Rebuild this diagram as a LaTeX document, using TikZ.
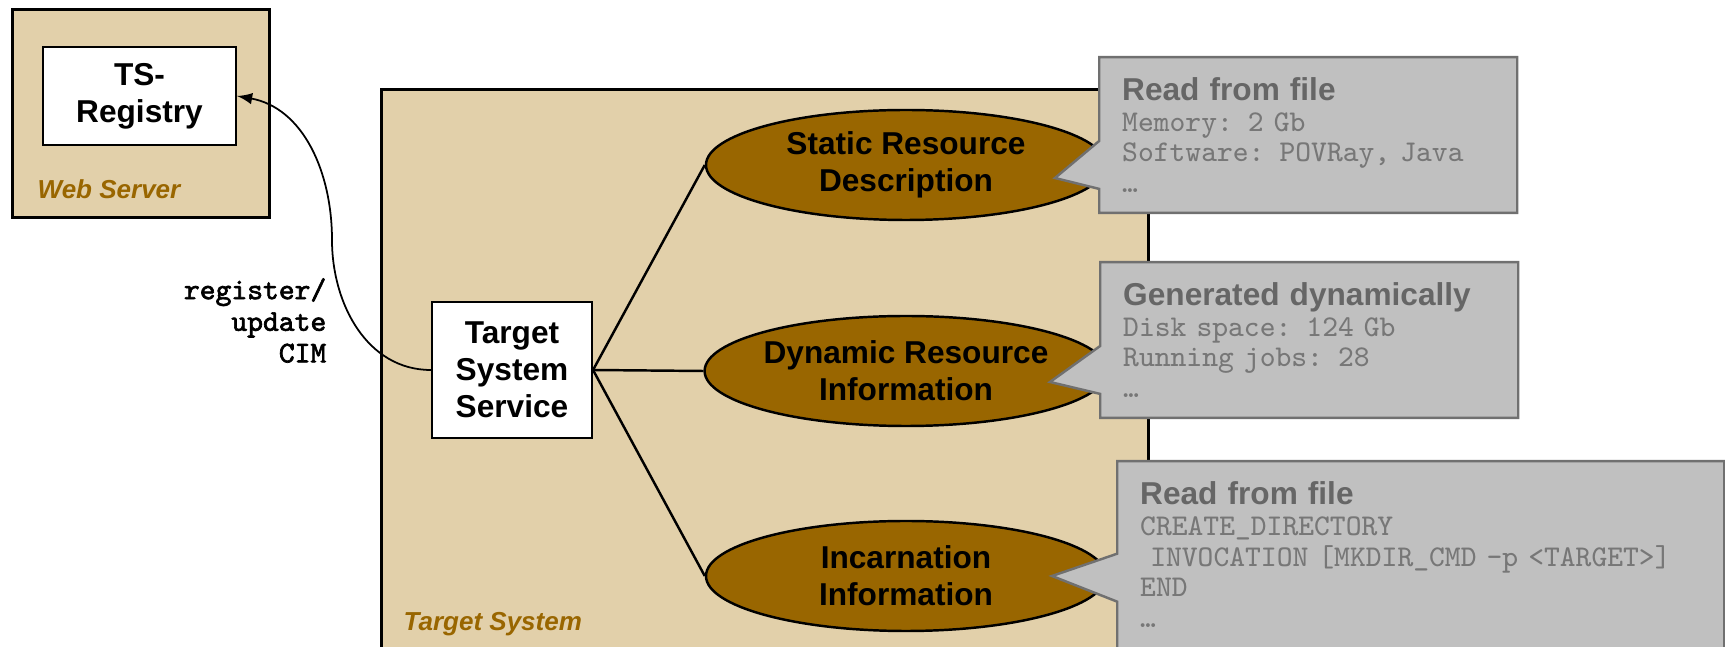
\documentclass[tikz,border=0pt]{standalone}
\usepackage{fontspec}
\setmainfont{Liberation Sans}
\newfontfamily\cimfont{lmmono10-regular}[Extension=.otf, FakeBold=2.2]
\usepackage{xcolor}
\usepackage{tikz}
\usetikzlibrary{shapes.geometric,shapes.callouts}

\definecolor{areafill}{RGB}{226,208,170}
\definecolor{resbrown}{RGB}{153,102,0}
\definecolor{notefill}{RGB}{192,192,192}
\definecolor{noteline}{RGB}{112,112,112}
\definecolor{notetitle}{RGB}{102,102,102}
\definecolor{notetext}{RGB}{119,119,119}

\newcommand{\notehead}[1]{{\fontsize{9}{8.8}\selectfont\rmfamily\bfseries\color{notetitle}#1}}

\begin{document}
\begin{tikzpicture}[
    hostbox/.style={draw=black, line width=0.8pt, fill=areafill, anchor=north west, inner sep=0pt},
    whitebox/.style={draw=black, line width=0.6pt, fill=white, align=center, inner sep=0pt, font=\fontsize{9}{10.6}\selectfont\bfseries},
    hostlabel/.style={anchor=base west, inner sep=0pt, text=resbrown, font=\fontsize{7.4}{8.8}\selectfont\bfseries\itshape},
    resell/.style={ellipse, draw=black, line width=0.7pt, fill=resbrown, minimum width=4cm, minimum height=1.1cm, inner sep=0pt, align=center, font=\fontsize{9}{10.6}\selectfont\bfseries},
    infonote/.style={rectangle callout, draw=noteline, line width=0.7pt, fill=notefill, anchor=north west, align=left, inner xsep=0.23cm, inner ysep=0.2cm, text=notetext, font=\fontsize{8.57}{8.8}\selectfont\ttfamily, callout pointer width=0.48cm}
  ]
  \useasboundingbox (0,0) rectangle (17.25,-6.47);
  \clip (0,0) rectangle (17.25,-6.47);

  % hosts
  \node[hostbox, minimum width=2.57cm, minimum height=2.08cm] (websrv) at (0.11,-0.08) {};
  \node[hostbox, minimum width=7.67cm, minimum height=6.2cm] (tsbox) at (3.80,-0.88) {};
  \node[hostlabel] (weblabel) at (0.37,-1.99) {Web Server};
  \node[hostlabel] (tslabel) at (4.03,-6.31) {Target System};

  \node[whitebox, minimum width=1.93cm, minimum height=0.98cm] (registry) at (1.395,-0.96) {TS-\\Registry};
  \node[whitebox, minimum width=1.60cm, minimum height=1.36cm] (tss) at (5.12,-3.70) {Target\\System\\Service};

  % resources
  \node[resell] (static) at (9.06,-1.65) {Static Resource\\Description};
  \node[resell] (dynamic) at (9.06,-3.71) {Dynamic Resource\\Information};
  \node[resell] (incarn) at (9.06,-5.76) {Incarnation\\Information};

  \draw[line width=0.7pt] (tss.east) -- (static.west);
  \draw[line width=0.7pt] (tss.east) -- (dynamic.west);
  \draw[line width=0.7pt] (tss.east) -- (incarn.west);

  \coordinate (bend) at (3.32,-2.40);
  \draw[-latex, line width=0.5pt] (tss.west) to[out=180,in=-90] (bend) to[out=90,in=-10] (registry.east);
  \node[anchor=east, align=right, inner sep=0pt, font=\fontsize{8.57}{9}\selectfont\cimfont] (cimlabel) at (3.27,-3.205) {register/\\update\\CIM};

  % notes
  \node[infonote, text width=3.72cm, callout absolute pointer={(10.55,-1.78)}] (staticnote) at (10.98,-0.56)
    {\notehead{Read from file}\\Memory: 2 Gb\\Software: POVRay, Java\\…};
  \node[infonote, text width=3.72cm, callout absolute pointer={(10.50,-3.82)}] (dynamicnote) at (10.99,-2.61)
    {\notehead{Generated dynamically}\\Disk space: 124 Gb\\Running jobs: 28\\…};
  \node[infonote, text width=5.61cm, callout absolute pointer={(10.52,-5.76)}] (incarnnote) at (11.16,-4.60)
    {\notehead{Read from file}\\CREATE\_DIRECTORY\\~INVOCATION [MKDIR\_CMD -p <TARGET>]\\END\\…\\~\\~};
\end{tikzpicture}
\end{document}
